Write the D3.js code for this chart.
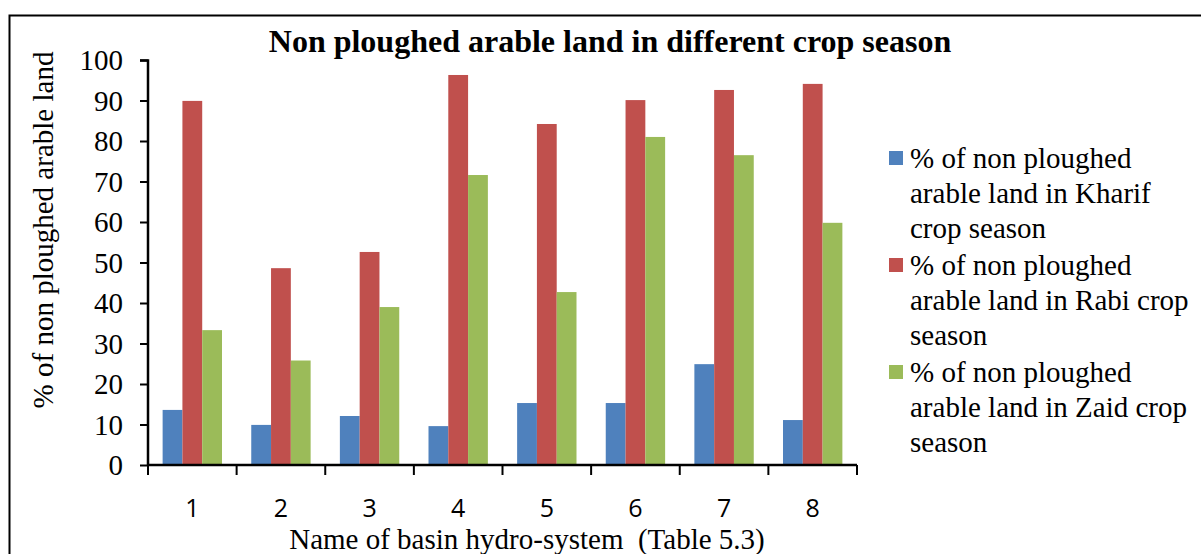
<!DOCTYPE html>
<html>
<head>
<meta charset="utf-8">
<script src="https://cdn.jsdelivr.net/npm/d3@7"></script>
<style>
  body { margin: 0; background: #fff; }
  text { font-family: "Liberation Serif", "Times New Roman", serif; fill: #000; }
</style>
</head>
<body>
<div id="chart"></div>
<script>
var categories = ["1", "2", "3", "4", "5", "6", "7", "8"];
var kharif = [13.6, 9.9, 12.1, 9.6, 15.3, 15.3, 24.9, 11.1];
var rabi   = [89.9, 48.6, 52.6, 96.3, 84.2, 90.1, 92.6, 94.1];
var zaid   = [33.3, 25.8, 39.0, 71.6, 42.7, 81.0, 76.5, 59.8];
var yTicks = [0, 10, 20, 30, 40, 50, 60, 70, 80, 90, 100];
var seriesNames = [
  ["% of non ploughed", "arable land in Kharif", "crop season"],
  ["% of non ploughed", "arable land in Rabi crop", "season"],
  ["% of non ploughed", "arable land in Zaid crop", "season"]
];
var colors = ["#4f81bd", "#c0504d", "#9bbb59"];

var svgWidth = 1201;
var svgHeight = 554;
var margin = { top: 60, left: 148 };
var width = 709;
var height = 405;

var svg = d3.select("#chart")
  .append("svg")
  .attr("width", svgWidth)
  .attr("height", svgHeight);

// outer frame
svg.append("rect")
  .attr("x", 9.5).attr("y", 15.5)
  .attr("width", 1220).attr("height", 600)
  .attr("fill", "none")
  .attr("stroke", "#000")
  .attr("stroke-width", 2);

var chart = svg.append("g")
  .attr("transform", `translate(${margin.left}, ${margin.top})`);

var x0 = d3.scaleBand().domain(categories).range([0, width]).paddingInner(0.33).paddingOuter(0.165);
var x1 = d3.scaleBand().domain([0, 1, 2]).range([0, x0.bandwidth()]);
var y = d3.scaleLinear().domain([0, 100]).range([height, 0]);

var series = [kharif, rabi, zaid];
var rows = [];
categories.forEach(function(c, i) {
  series.forEach(function(s, j) {
    rows.push({ cat: c, s: j, v: s[i] });
  });
});

chart.selectAll("rect.bar")
  .data(rows)
  .enter()
  .append("rect")
  .attr("class", "bar")
  .attr("x", d => x0(d.cat) + x1(d.s))
  .attr("y", d => y(d.v))
  .attr("width", x1.bandwidth())
  .attr("height", d => height - y(d.v))
  .attr("fill", d => colors[d.s]);

// y axis
var yaxis = d3.axisLeft(y).tickValues(yTicks).tickSize(8).tickPadding(17);
var yg = chart.append("g").call(yaxis);
yg.select(".domain").attr("stroke-width", 2.5).attr("d", `M-8,0.5H0V${height}`);
yg.selectAll(".tick line").attr("stroke-width", 2);
yg.selectAll(".tick text").style("font-size", "29px").attr("dy", "0.34em");

// x axis, ticks sit between the categories
var xg = chart.append("g").attr("transform", `translate(0, ${height})`);
xg.append("line").attr("x1", 0).attr("x2", width).attr("y1", 0).attr("y2", 0)
  .attr("stroke", "#000").attr("stroke-width", 2.5);
var step = width / categories.length;
xg.selectAll("line.tk")
  .data(d3.range(categories.length + 1))
  .enter()
  .append("line")
  .attr("class", "tk")
  .attr("x1", d => d * step).attr("x2", d => d * step)
  .attr("y1", 0).attr("y2", 10)
  .attr("stroke", "#000").attr("stroke-width", 2);
xg.selectAll("text")
  .data(categories)
  .enter()
  .append("text")
  .attr("x", d => x0(d) + x0.bandwidth() / 2)
  .attr("y", 52)
  .attr("text-anchor", "middle")
  .style("font-family", "'Open Sans', 'Liberation Sans', sans-serif")
  .style("font-size", "25px")
  .text(d => d);

// title
svg.append("text")
  .attr("x", 610).attr("y", 52)
  .attr("text-anchor", "middle")
  .style("font-size", "32px")
  .style("font-weight", "bold")
  .text("Non ploughed arable land in different crop season");

// x title
svg.append("text")
  .attr("x", 527).attr("y", 549)
  .attr("text-anchor", "middle")
  .style("font-size", "29px")
  .style("white-space", "pre")
  .text("Name of basin hydro-system  (Table 5.3)");

// y title
svg.append("text")
  .attr("transform", "translate(53, 230) rotate(-90)")
  .attr("text-anchor", "middle")
  .style("font-size", "29px")
  .text("% of non ploughed arable land");

// legend
var legend = svg.append("g").attr("transform", "translate(889, 151)");
var items = legend.selectAll("g")
  .data(seriesNames)
  .enter()
  .append("g")
  .attr("transform", (d, i) => `translate(0, ${i * 107})`);
items.append("rect")
  .attr("width", 14).attr("height", 14)
  .attr("fill", (d, i) => colors[i]);
items.selectAll("text")
  .data(d => d)
  .enter()
  .append("text")
  .attr("x", 21)
  .attr("y", (d, i) => 17 + i * 35)
  .style("font-size", "29px")
  .text(d => d);
</script>
</body>
</html>
